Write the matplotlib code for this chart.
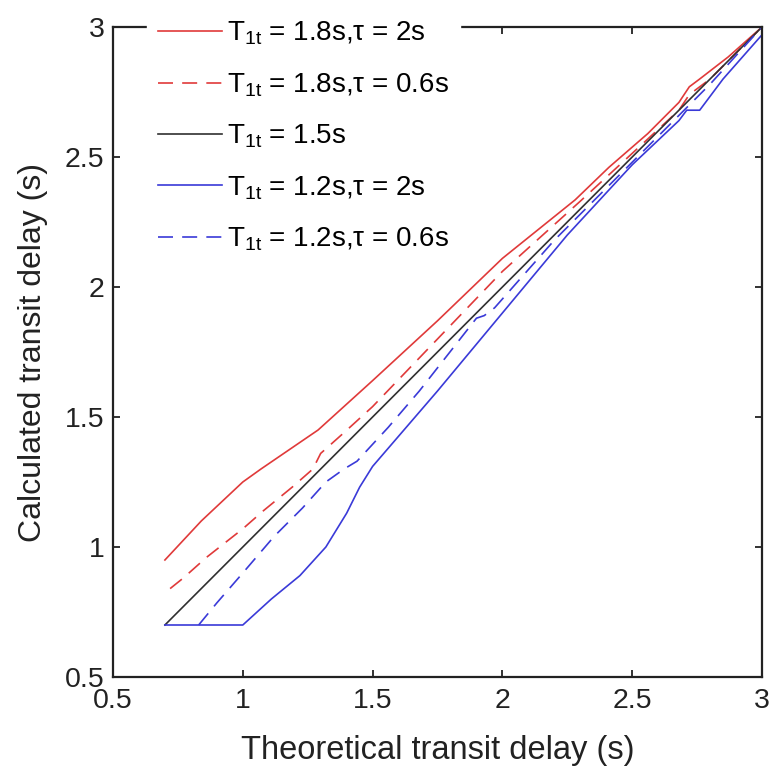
import matplotlib
matplotlib.use("Agg")
import matplotlib.pyplot as plt

plt.rcParams['font.family'] = ['Liberation Sans', 'DejaVu Sans']
plt.rcParams['mathtext.fontset'] = 'custom'
plt.rcParams['mathtext.rm'] = 'Liberation Sans'
plt.rcParams['mathtext.it'] = 'Liberation Sans:italic'

# --- data ---
red_x = [0.7, 0.84, 1.0, 1.07, 1.29, 1.5, 1.75, 2.0, 2.28, 2.41, 2.56, 2.68, 2.72, 2.76, 2.87, 3.0]
red_y = [0.95, 1.10, 1.25, 1.30, 1.45, 1.64, 1.87, 2.11, 2.335, 2.46, 2.59, 2.71, 2.77, 2.80, 2.885, 3.0]

red_dash_x = [0.72, 0.77, 0.86, 1.0, 1.08, 1.19, 1.27, 1.30, 1.39, 1.5, 1.75, 2.0, 2.3, 2.55, 2.68, 2.72, 2.8, 3.0]
red_dash_y = [0.84, 0.88, 0.96, 1.07, 1.14, 1.23, 1.30, 1.36, 1.44, 1.54, 1.80, 2.06, 2.33, 2.56, 2.68, 2.74, 2.80, 3.0]

black_x = [0.7, 3.0]
black_y = [0.7, 3.0]

blue_x = [0.7, 1.0, 1.11, 1.22, 1.32, 1.40, 1.45, 1.5, 1.75, 2.0, 2.25, 2.5, 2.68, 2.71, 2.76, 2.85, 3.0]
blue_y = [0.7, 0.7, 0.80, 0.89, 1.0, 1.13, 1.23, 1.31, 1.60, 1.90, 2.20, 2.47, 2.64, 2.68, 2.68, 2.80, 2.97]

blue_dash_x = [0.83, 0.9, 1.0, 1.12, 1.23, 1.32, 1.39, 1.44, 1.56, 1.68, 1.9, 1.93, 1.97, 2.2, 2.5, 2.7, 2.8, 3.0]
blue_dash_y = [0.70, 0.785, 0.90, 1.04, 1.15, 1.25, 1.30, 1.33, 1.46, 1.60, 1.88, 1.89, 1.92, 2.18, 2.48, 2.68, 2.78, 3.0]

labels = [
    r'T$_{\mathrm{1t}}$ = 1.8s,τ = 2s',
    r'T$_{\mathrm{1t}}$ = 1.8s,τ = 0.6s',
    r'T$_{\mathrm{1t}}$ = 1.5s',
    r'T$_{\mathrm{1t}}$ = 1.2s,τ = 2s',
    r'T$_{\mathrm{1t}}$ = 1.2s,τ = 0.6s',
]
ticks = [0.5, 1, 1.5, 2, 2.5, 3]
tick_labels = ['0.5', '1', '1.5', '2', '2.5', '3']

red = '#e03a3a'
blue = '#3a3ad8'
black = '#303030'

fig = plt.figure(figsize=(7.71, 7.73), dpi=100)
ax = fig.add_axes([113 / 771, 1 - 677 / 773, 649 / 771, 650 / 773])

ax.plot(red_x, red_y, color=red, lw=1.2, label=labels[0])
ax.plot(red_dash_x, red_dash_y, color=red, lw=1.2, dashes=(9, 5.5), label=labels[1])
ax.plot(black_x, black_y, color=black, lw=1.2, label=labels[2])
ax.plot(blue_x, blue_y, color=blue, lw=1.2, label=labels[3])
ax.plot(blue_dash_x, blue_dash_y, color=blue, lw=1.2, dashes=(9, 5.5), label=labels[4])

ax.set_xlim(0.5, 3)
ax.set_ylim(0.5, 3)
ax.set_xticks(ticks)
ax.set_xticklabels(tick_labels)
ax.set_yticks(ticks)
ax.set_yticklabels(tick_labels)
ax.tick_params(direction='in', length=5, width=1.3, labelsize=20.5,
               top=True, right=True, colors='#222222')
ax.tick_params(axis='x', pad=8)
ax.tick_params(axis='y', pad=6)
for s in ax.spines.values():
    s.set_linewidth(1.6)
    s.set_color('#222222')

ax.set_xlabel('Theoretical transit delay (s)', fontsize=23.5, labelpad=15, color='#222222')
ax.set_ylabel('Calculated transit delay (s)', fontsize=23, labelpad=12, color='#222222')

leg = ax.legend(loc='upper left', bbox_to_anchor=(0.052, 1.028), borderaxespad=0,
                fontsize=20, handlelength=2.3, handletextpad=0.2,
                labelspacing=0.86, frameon=True, fancybox=False,
                facecolor='white', edgecolor='white', framealpha=1)

fig.savefig('out.png', dpi=100)
